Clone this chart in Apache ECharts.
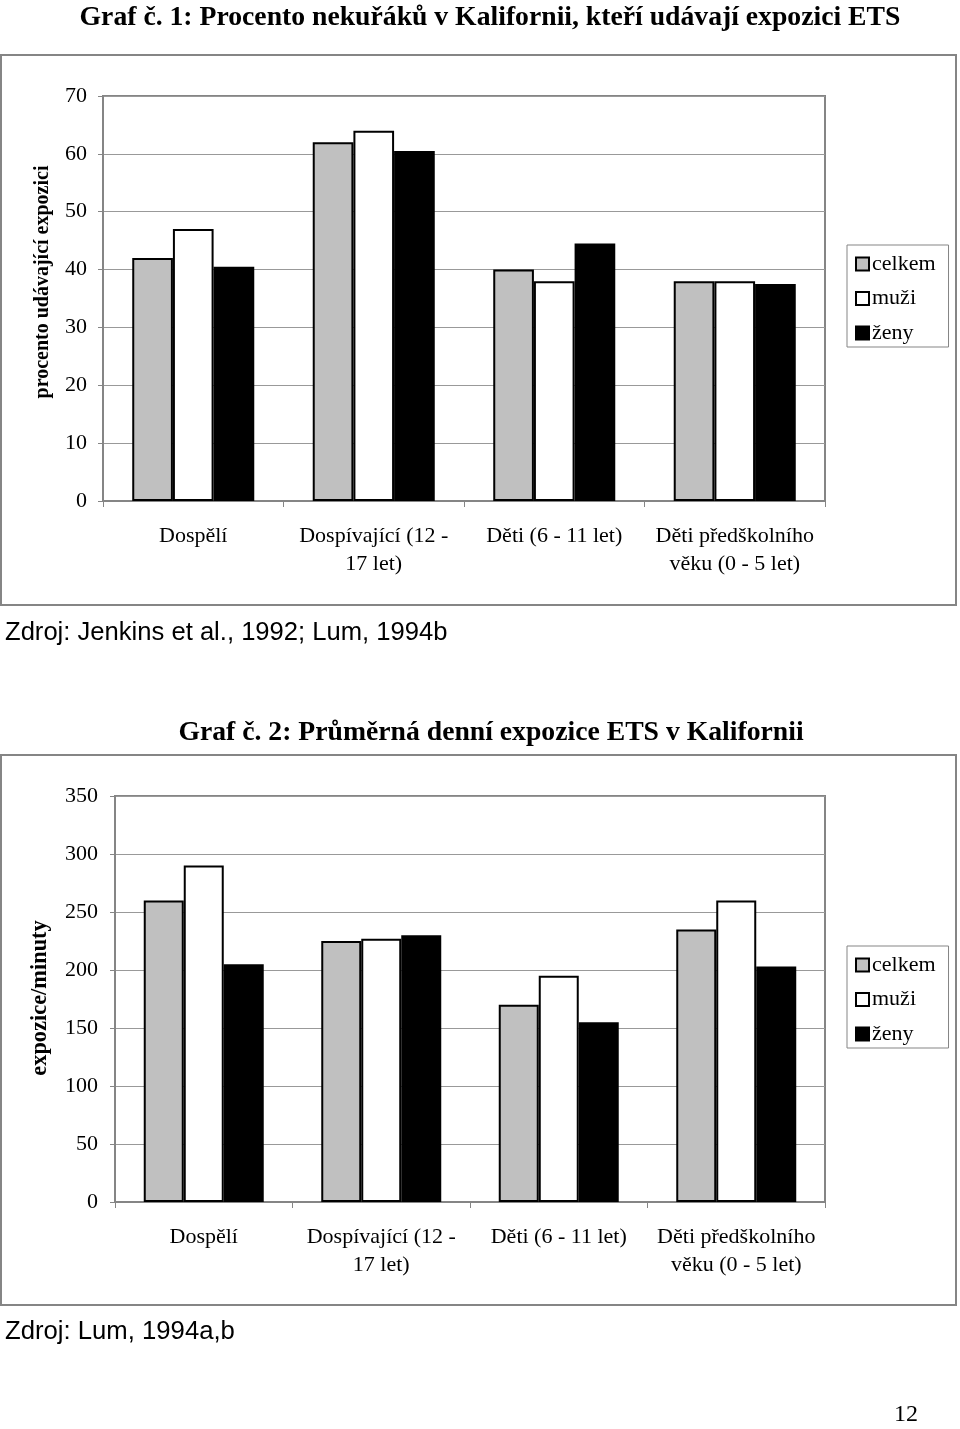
<!DOCTYPE html>
<html>
<head>
<meta charset="utf-8">
<script src="https://cdn.jsdelivr.net/npm/echarts@6/dist/echarts.min.js"></script>
<style>
html,body{margin:0;padding:0;background:#fff;}
#c{width:960px;height:1429px;}
</style>
</head>
<body>
<div id="c"></div>
<script>
const categories = ['Dospělí', 'Dospívající (12 -\n17 let)', 'Děti (6 - 11 let)', 'Děti předškolního\nvěku (0 - 5 let)'];
const seriesNames = ['celkem', 'muži', 'ženy'];
// Graf 1: procento
const g1Celkem = [42, 62, 40, 38];
const g1Muzi = [47, 64, 38, 38];
const g1Zeny = [40.5, 60.5, 44.5, 37.5];
// Graf 2: minuty
const g2Celkem = [260, 225, 170, 235];
const g2Muzi = [290, 227, 195, 260];
const g2Zeny = [205, 230, 155, 203];
const y1Ticks = [0, 70, 10];
const y2Ticks = [0, 350, 50];

const colors = ['#c0c0c0', '#ffffff', '#000000'];
const serif = 'Liberation Serif';
const sans = 'Liberation Sans';
const grey = '#858585';

const chart = echarts.init(document.getElementById('c'), null, {renderer: 'canvas'});

function makeSeries(data, idx, gi) {
  return {
    type: 'bar',
    name: seriesNames[idx],
    xAxisIndex: gi, yAxisIndex: gi,
    data: data,
    barGap: '0%',
    barCategoryGap: '32.4%',
    itemStyle: {color: colors[idx], borderColor: '#000', borderWidth: 2},
    emphasis: {disabled: true},
    animation: false
  };
}

function xAx(gi) {
  return {
    type: 'category', gridIndex: gi, data: categories,
    axisLine: {lineStyle: {color: grey, width: 2}},
    axisTick: {show: true, length: 6, lineStyle: {color: grey, width: 1}},
    axisLabel: {color: '#000', fontFamily: serif, fontSize: 22, lineHeight: 28, margin: 21, interval: 0}
  };
}
function yAx(gi, t) {
  return {
    type: 'value', gridIndex: gi, min: t[0], max: t[1], interval: t[2],
    axisLine: {show: true, lineStyle: {color: grey, width: 2}},
    axisTick: {show: true, length: 5, lineStyle: {color: grey}},
    splitLine: {lineStyle: {color: '#999', width: 1}},
    axisLabel: {color: '#000', fontFamily: serif, fontSize: 22, margin: gi === 0 ? 16 : 17}
  };
}
function legend(top) {
  return {
    data: seriesNames, orient: 'vertical', left: 847, top: top,
    icon: 'rect', itemWidth: 13, itemHeight: 13, itemGap: 12.5,
    padding: [8, 13, 3, 8],
    borderColor: grey, borderWidth: 1,
    selectedMode: false,
    itemStyle: {borderColor: '#000', borderWidth: 2},
    textStyle: {fontFamily: serif, fontSize: 22, color: '#000', padding: [0, 0, 0, -2]}
  };
}

chart.setOption({
  animation: false,
  backgroundColor: '#fff',
  title: [
    {text: 'Graf č. 1: Procento nekuřáků v Kalifornii, kteří udávají expozici ETS', left: 485, textAlign: 'center', top: -1,
     textStyle: {fontFamily: serif, fontWeight: 'bold', fontSize: 27.7, color: '#000'}},
    {text: 'Graf č. 2: Průměrná denní expozice ETS v Kalifornii', left: 486, textAlign: 'center', top: 714,
     textStyle: {fontFamily: serif, fontWeight: 'bold', fontSize: 27.7, color: '#000'}}
  ],
  legend: [legend(245), legend(946)],
  grid: [
    {left: 103, right: 135, top: 96, height: 405, show: true, borderColor: grey, borderWidth: 2, containLabel: false},
    {left: 115, right: 135, top: 796, height: 406, show: true, borderColor: grey, borderWidth: 2, containLabel: false}
  ],
  xAxis: [xAx(0), xAx(1)],
  yAxis: [yAx(0, y1Ticks), yAx(1, y2Ticks)],
  series: [
    makeSeries(g1Celkem, 0, 0), makeSeries(g1Muzi, 1, 0), makeSeries(g1Zeny, 2, 0),
    makeSeries(g2Celkem, 0, 1), makeSeries(g2Muzi, 1, 1), makeSeries(g2Zeny, 2, 1)
  ],
  graphic: [
    {type: 'rect', shape: {x: 1, y: 55, width: 955, height: 550}, style: {fill: 'none', stroke: grey, lineWidth: 2}, z: -1},
    {type: 'rect', shape: {x: 1, y: 755, width: 955, height: 550}, style: {fill: 'none', stroke: grey, lineWidth: 2}, z: -1},
    {type: 'text', x: 43, y: 282, rotation: Math.PI / 2,
     style: {text: 'procento udávající expozici', fontFamily: serif, fontWeight: 'bold', fontSize: 20, fill: '#000', align: 'center', verticalAlign: 'middle'}},
    {type: 'text', x: 40, y: 998, rotation: Math.PI / 2,
     style: {text: 'expozice/minuty', fontFamily: serif, fontWeight: 'bold', fontSize: 22.4, fill: '#000', align: 'center', verticalAlign: 'middle'}},
    {type: 'text', x: 5, y: 633,
     style: {text: 'Zdroj: Jenkins et al., 1992; Lum, 1994b', fontFamily: sans, fontSize: 25.6, fill: '#000', align: 'left', verticalAlign: 'middle'}},
    {type: 'text', x: 5, y: 1332,
     style: {text: 'Zdroj: Lum, 1994a,b', fontFamily: sans, fontSize: 25.7, fill: '#000', align: 'left', verticalAlign: 'middle'}},
    {type: 'text', x: 918, y: 1415,
     style: {text: '12', fontFamily: serif, fontSize: 24, fill: '#000', align: 'right', verticalAlign: 'middle'}}
  ]
});
</script>
</body>
</html>
